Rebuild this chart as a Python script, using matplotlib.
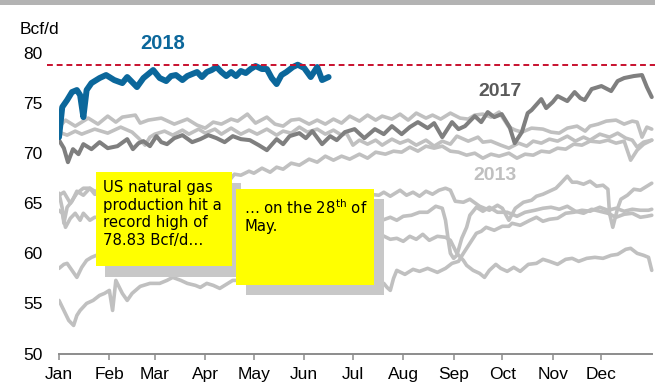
import matplotlib
matplotlib.use('Agg')
import matplotlib.pyplot as plt
from matplotlib.patches import Rectangle

plt.rcParams['font.family'] = ['Liberation Sans', 'DejaVu Sans']

# Daily dry gas production, Bcf/d, by day of year
days_2018 = [0, 2, 5, 8, 11, 13, 15, 17, 20, 25, 29, 34, 39, 42, 45, 48, 52, 55, 58, 62,
             66, 69, 72, 76, 79, 82, 85, 88, 91, 94, 97, 100, 103, 106, 109, 112, 115, 118, 121, 125,
             128, 131, 134, 137, 140, 144, 147, 151, 155, 159, 162, 166]
prod_2018 = [71.6, 74.6, 75.3, 76.1, 76.3, 75.8, 73.6, 76.3, 77.0, 77.5, 77.8, 77.3, 77.0, 77.6, 77.1, 76.6, 77.5, 77.9, 78.3, 77.5,
             77.2, 77.7, 77.8, 77.3, 77.7, 77.9, 78.1, 77.6, 78.1, 78.3, 78.6, 78.1, 77.7, 78.1, 77.7, 78.2, 78.0, 78.4, 78.7, 78.4,
             78.4, 77.5, 76.9, 77.8, 78.1, 78.6, 78.83, 78.5, 77.6, 78.6, 77.3, 77.6]

days_2017 = [0, 3, 5.5, 8.6, 12, 15, 20, 25, 30, 36, 42, 45.5, 49, 52, 56, 60, 63, 66.5, 71, 76,
             82, 87, 92, 97, 102, 107, 112, 117.5, 123, 128, 134, 138, 142, 148, 152, 156, 162, 167, 171, 176,
             182, 188, 194.5, 200, 205, 211, 216, 221, 227, 231, 236, 242, 246, 250, 256, 260, 264, 268, 272.6, 277.5,
             280.6, 285, 288.6, 291, 297, 300, 304, 307, 313, 317.5, 321, 323.7, 328, 334, 340, 344, 348, 354, 359, 362, 365]
prod_2017 = [71.3, 70.5, 69.1, 70.4, 69.9, 70.9, 70.4, 71.1, 70.5, 70.7, 71.4, 70.4, 71.0, 71.2, 70.7, 71.7, 71.1, 70.9, 71.5, 71.8,
             71.1, 71.4, 71.8, 71.5, 71.1, 71.7, 71.4, 71.3, 70.8, 70.3, 71.4, 70.9, 71.7, 72.0, 71.5, 72.2, 70.9, 71.7, 71.3, 72.1,
             72.4, 71.5, 72.4, 71.9, 72.7, 71.9, 72.6, 73.1, 72.5, 73.0, 71.6, 73.1, 72.4, 72.7, 73.7, 73.1, 74.1, 73.6, 73.9, 72.6,
             71.0, 72.1, 74.0, 74.3, 75.4, 74.5, 75.1, 75.7, 75.2, 76.1, 75.5, 75.3, 76.4, 76.7, 76.2, 77.2, 77.5, 77.7, 77.8, 76.6, 75.6]

days_2016 = [0, 4, 10, 18, 24, 30, 35, 39, 47, 50, 55, 63, 71, 79, 85, 90, 95, 100, 106, 110,
             116, 121, 128, 133, 138, 143, 148, 154, 159, 164, 169, 174, 179, 185, 190, 195, 199, 205, 210, 215,
             220, 226, 230, 235, 241, 247, 252, 256, 261, 266, 271, 277, 281, 285, 291, 298, 303, 308, 313, 319,
             324, 327, 332, 337, 343, 348, 353, 356, 359, 362, 365]
prod_2016 = [72.6, 73.3, 72.7, 73.5, 72.9, 73.7, 73.1, 73.6, 73.8, 73.0, 73.3, 73.5, 72.9, 73.4, 72.8, 72.5, 73.1, 72.9, 73.4, 73.2,
             73.9, 73.0, 73.6, 72.9, 72.7, 73.3, 73.4, 72.9, 73.3, 72.9, 73.4, 73.0, 73.7, 73.2, 73.8, 73.3, 73.7, 73.4, 73.9, 73.3,
             74.0, 73.5, 73.8, 73.4, 74.0, 73.5, 73.4, 73.8, 73.9, 73.6, 74.1, 72.6, 72.3, 72.1, 72.5, 72.4, 72.1, 72.0, 72.5, 72.7,
             72.2, 72.7, 72.9, 73.2, 73.3, 72.9, 73.2, 73.1, 71.6, 72.6, 72.4]

days_2015 = [0, 5, 10, 14, 22, 30, 38, 45, 49, 53, 56, 59, 65, 70, 76, 80, 86, 90, 96, 100,
             106, 112, 117, 122, 128, 134, 138, 143, 148, 153, 159, 164, 169, 174, 177, 181, 185, 190, 195, 199,
             205, 210, 215, 220, 226, 231, 236, 241, 245, 252, 258, 261, 266, 272, 277, 283, 288, 292, 297, 302,
             307, 313, 318, 323, 327, 333, 339, 344, 349, 353, 356, 360, 365]
prod_2015 = [72.1, 71.8, 72.2, 71.9, 72.4, 72.0, 72.6, 72.1, 71.5, 70.8, 71.6, 71.9, 72.2, 71.8, 72.3, 71.9, 72.4, 72.0, 72.4, 71.9,
             72.5, 71.9, 72.3, 71.9, 72.4, 71.8, 72.2, 72.0, 72.6, 72.1, 72.4, 71.9, 72.3, 71.8, 72.0, 70.8, 71.3, 70.9, 71.3, 70.8,
             71.4, 71.0, 71.3, 70.8, 71.3, 70.7, 71.2, 70.9, 71.7, 71.2, 71.6, 71.1, 71.2, 70.8, 70.5, 71.0, 70.7, 71.2, 71.0, 71.4,
             71.2, 71.7, 71.2, 71.6, 71.3, 71.9, 71.6, 72.0, 71.5, 71.3, 70.6, 71.1, 71.3]

days_2014 = [0, 2, 3, 5, 8, 11, 15, 19, 22, 30, 40, 50, 60, 70, 80, 90, 98, 104, 108, 112,
             117, 120, 125, 130, 134, 138, 143, 148, 154, 159, 164, 169, 174, 179, 185, 190, 195, 201, 206, 211,
             216, 221, 226, 231, 236, 241, 246, 251, 256, 261, 266, 271, 277, 282, 287, 292, 297, 302, 307, 312,
             317, 322, 327, 333, 338, 343, 348, 352, 356, 360, 365]
prod_2014 = [66.0, 64.5, 63.0, 64.6, 65.2, 66.2, 65.8, 66.5, 66.2, 66.4, 66.8, 67.0, 67.2, 67.4, 67.6, 67.5, 67.8, 67.1, 67.9, 67.8,
             68.2, 68.0, 68.5, 68.1, 68.6, 68.4, 69.0, 68.8, 69.4, 69.1, 69.7, 69.3, 69.7, 69.4, 69.9, 69.5, 70.1, 69.9, 70.2, 70.1,
             70.6, 70.2, 70.7, 70.5, 70.7, 70.2, 70.1, 69.8, 70.0, 69.5, 69.9, 69.7, 70.0, 69.5, 69.9, 69.8, 70.2, 70.1, 70.5, 70.4,
             70.9, 70.8, 71.2, 71.1, 71.3, 71.0, 71.2, 69.3, 70.3, 70.9, 71.3]

days_2013 = [0, 3, 7, 11, 15, 19, 22, 35, 50, 65, 80, 95, 110, 125, 140, 155, 170, 185, 197, 200,
             204, 210, 214, 218, 222, 226, 230, 234, 238, 241, 244, 249, 253, 259, 265, 270, 273, 277, 281, 286,
             291, 294, 298, 302, 306, 309, 313, 316, 319, 323, 327, 331, 335, 338, 339, 341, 344, 346, 350, 354,
             358, 362, 365]
prod_2013 = [65.8, 66.1, 65.0, 66.0, 66.5, 66.5, 65.9, 66.0, 65.8, 66.0, 65.8, 65.9, 66.0, 65.7, 65.9, 65.8, 65.9, 66.0, 65.8, 66.1,
             65.7, 66.3, 65.8, 66.1, 65.7, 66.2, 65.9, 66.3, 66.5, 66.3, 65.2, 65.1, 65.4, 64.7, 64.3, 64.8, 64.5, 63.3, 64.5, 65.1,
             65.3, 65.7, 65.9, 66.2, 66.5, 67.0, 67.7, 67.1, 67.1, 66.9, 67.2, 66.7, 66.8, 66.4, 64.0, 62.6, 64.5, 65.4, 65.8, 66.4,
             66.3, 66.7, 67.0]

days_2012 = [0, 2, 4, 7, 10, 13, 15, 19, 22, 35, 50, 65, 80, 95, 110, 125, 140, 155, 170, 185,
             199, 204, 208, 212, 217, 222, 227, 232, 236, 238, 240, 241, 243, 245, 248, 251, 253, 257, 261, 265,
             270, 276, 282, 287, 293, 298, 303, 308, 313, 318, 323, 328, 333, 338, 343, 348, 353, 358, 362, 365]
prod_2012 = [64.3, 64.0, 62.6, 63.5, 64.0, 63.3, 64.0, 63.3, 63.6, 63.5, 63.4, 63.6, 63.3, 63.5, 63.6, 63.4, 63.5, 63.3, 63.4, 63.3,
             63.3, 63.6, 63.3, 63.7, 63.8, 64.1, 64.1, 64.7, 64.5, 63.3, 61.0, 60.0, 59.5, 59.8, 61.5, 62.6, 63.8, 64.6, 64.2, 64.6,
             64.1, 64.1, 63.7, 64.1, 64.3, 64.5, 64.6, 64.4, 64.7, 64.2, 64.0, 64.4, 64.2, 64.0, 63.6, 63.9, 64.0, 63.6, 63.7, 63.8]

days_2011 = [0, 3, 6, 9, 11, 13, 17, 21, 25, 28, 31, 33, 35, 39, 42, 45, 50, 56, 62, 66.5,
             70, 75, 79, 84, 87, 91, 95, 99, 104, 107, 111, 125, 140, 155, 170, 185, 197, 200, 202, 204,
             206, 208, 213, 218, 222, 227, 233, 238, 242, 246, 249, 253, 257, 260, 263, 268, 273, 277, 279, 284,
             290, 294, 298, 302, 307, 312, 317, 322, 327, 333, 338, 343, 348, 353, 358, 363, 365]
prod_2011 = [55.3, 54.3, 53.3, 52.8, 53.8, 54.3, 55.0, 55.3, 55.8, 56.0, 56.3, 54.3, 57.3, 56.0, 55.3, 56.0, 56.7, 57.0, 57.0, 57.3,
             57.6, 57.3, 57.0, 56.8, 56.6, 57.0, 56.8, 56.5, 57.0, 57.3, 57.3, 57.0, 57.2, 57.0, 57.1, 57.0, 57.0, 57.0, 56.6, 56.3,
             57.5, 58.3, 57.9, 58.4, 58.2, 58.5, 58.1, 58.5, 59.0, 59.2, 60.0, 61.0, 62.0, 62.2, 62.6, 62.3, 62.7, 62.7, 63.0, 62.8,
             63.3, 63.6, 63.2, 63.4, 63.5, 64.0, 64.1, 64.3, 64.2, 64.6, 64.3, 64.5, 64.2, 64.4, 64.3, 64.3, 64.4]

days_2010 = [0, 3, 5, 8, 11, 14, 17, 20, 23, 35, 50, 65, 80, 95, 110, 125, 140, 155, 170, 185,
             199, 204, 208, 212, 216, 220, 224, 228, 233, 238, 241, 245, 249, 251, 255, 259, 262, 265, 269, 272,
             276, 280, 284, 289, 294, 298, 302, 307, 312, 316, 320, 325, 330, 335, 340, 344, 349, 352, 356, 360,
             363, 365]
prod_2010 = [58.5, 58.9, 59.0, 58.3, 57.6, 58.6, 59.3, 59.6, 59.8, 60.0, 60.3, 60.5, 60.7, 60.8, 61.0, 61.2, 61.4, 61.5, 61.6, 61.7,
             61.8, 61.4, 61.5, 61.2, 61.7, 61.4, 61.9, 61.3, 61.7, 61.6, 61.3, 60.0, 59.3, 58.8, 58.3, 58.0, 57.6, 58.3, 58.9, 58.5,
             58.2, 58.6, 58.2, 58.9, 59.0, 59.4, 59.2, 58.9, 59.4, 59.5, 59.2, 59.5, 59.6, 59.5, 59.8, 59.9, 60.4, 60.5, 60.0, 59.8,
             59.6, 58.3]

record_high = 78.83

month_starts = [0, 31, 59, 90, 120, 151, 181, 212, 243, 273, 304, 334]
month_names = ['Jan', 'Feb', 'Mar', 'Apr', 'May', 'Jun', 'Jul', 'Aug', 'Sep', 'Oct', 'Nov', 'Dec']

W, H = 655, 389
BLUE = '#0b679b'
DARK = '#7f7f7f'
LIGHT = '#c0c0c0'


def fx(px):
    return px / W


def fy(py):
    return 1 - py / H


fig = plt.figure(figsize=(W / 100, H / 100), dpi=100)
ax = fig.add_axes([fx(59), fy(353.5), fx(655) - fx(59), fy(53) - fy(353.5)])

# older years in light grey
for d, v in [(days_2010, prod_2010), (days_2011, prod_2011), (days_2012, prod_2012),
             (days_2013, prod_2013), (days_2014, prod_2014), (days_2015, prod_2015),
             (days_2016, prod_2016)]:
    ax.plot(d, v, color=LIGHT, lw=2.6, solid_joinstyle='round', solid_capstyle='round', zorder=2)

ax.plot(days_2017, prod_2017, color=DARK, lw=2.9, solid_joinstyle='round', solid_capstyle='round', zorder=3)
ax.plot(days_2018, prod_2018, color=BLUE, lw=4.3, solid_joinstyle='round', solid_capstyle='round', zorder=4)

# record high reference line, running past the left end of the axis
ax.plot([-7.4, 367], [record_high, record_high], color='#c8102e', lw=1.4,
        dashes=(3.0, 2.0), clip_on=False, zorder=5)

ax.set_xlim(0, 367)
ax.set_ylim(50, 80)
ax.set_xticks(month_starts)
ax.set_xticklabels(month_names)
ax.set_yticks([50, 55, 60, 65, 70, 75, 80])

for s in ['top', 'right', 'left']:
    ax.spines[s].set_visible(False)
ax.spines['bottom'].set_color('#8c8c8c')
ax.spines['bottom'].set_linewidth(1.4)
ax.spines['bottom'].set_bounds(0, 365)
ax.tick_params(axis='x', direction='out', length=4, width=1.1, color='#8c8c8c',
               labelsize=12.5, pad=6)
ax.tick_params(axis='y', length=0, labelsize=12.5, pad=12)

ax.text(64, 80.9, '2018', color=BLUE, fontsize=14.5, fontweight='bold', ha='center', va='center')
ax.text(271.5, 76.15, '2017', color='#5a5a5a', fontsize=14, fontweight='bold', ha='center', va='center')
ax.text(268.5, 67.8, '2013', color=LIGHT, fontsize=14, fontweight='bold', ha='center', va='center')

fig.text(fx(39), fy(29), 'Bcf/d', fontsize=12.5, ha='center', va='center')

# grey strip along the top
fig.patches.append(Rectangle((0, fy(5)), 1, fy(0) - fy(5), transform=fig.transFigure,
                             facecolor='#b3b3b3', edgecolor='none', zorder=1))

# call-out boxes with drop shadows
boxes = [
    ((96, 172, 232, 266), (9, 11), 'US natural gas\nproduction hit a\nrecord high of\n78.83 Bcf/d…', (103, 180)),
    ((236, 189, 374, 285), (10, 10), '… on the 28$^{\\mathregular{th}}$ of\nMay.', (244, 198)),
]
for (x0, y0, x1, y1), (dx, dy), label, (tx, ty) in boxes:
    fig.patches.append(Rectangle((fx(x0 + dx), fy(y1 + dy)), fx(x1) - fx(x0), fy(y0) - fy(y1),
                                 transform=fig.transFigure, facecolor='#c8c8c8',
                                 edgecolor='none', zorder=6))
    fig.patches.append(Rectangle((fx(x0), fy(y1)), fx(x1) - fx(x0), fy(y0) - fy(y1),
                                 transform=fig.transFigure, facecolor='#ffff00',
                                 edgecolor='none', zorder=7))
    fig.text(fx(tx), fy(ty), label, fontsize=10.7, family='DejaVu Sans', ha='left', va='top',
             linespacing=1.22, zorder=8)

fig.savefig('out.png', dpi=100)
